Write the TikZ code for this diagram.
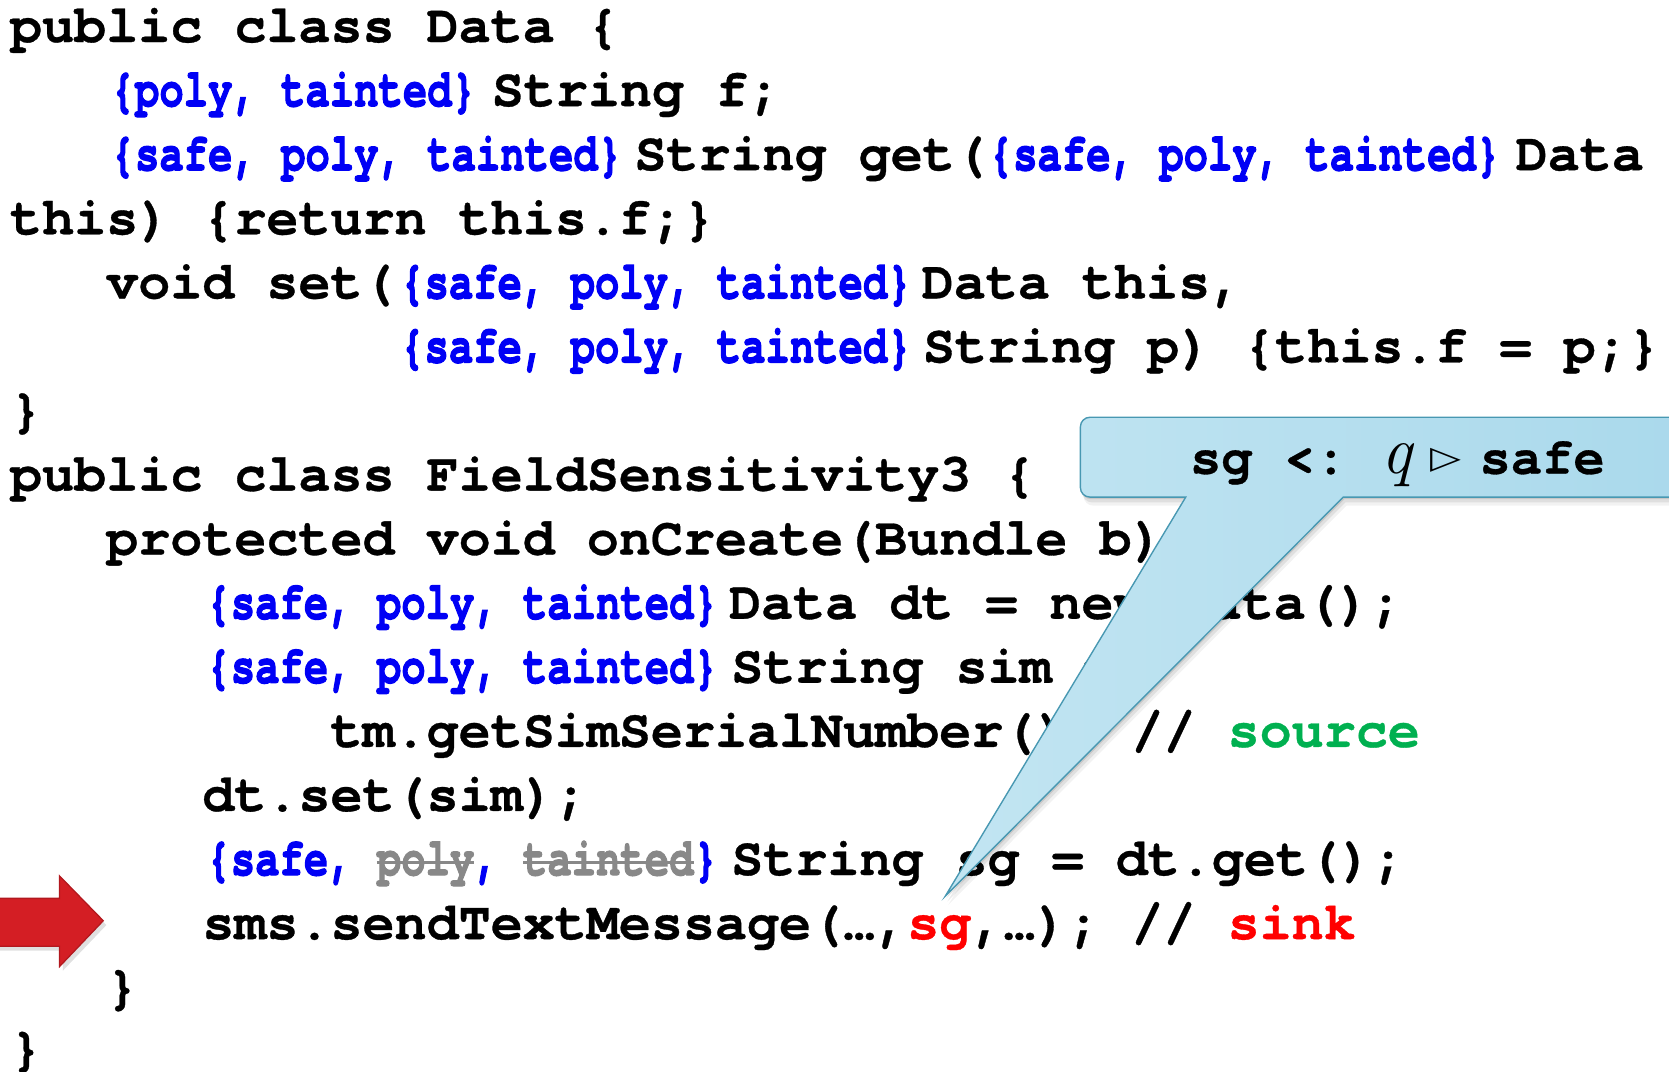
\documentclass[tikz,border=0pt]{standalone}
\usepackage{fontspec}
\usepackage{graphicx}
\newfontfamily\codefont{TeX Gyre Cursor}[BoldFeatures={FakeBold=0.6}]
\newfontfamily\annfont{TeX Gyre Cursor}[BoldFeatures={FakeBold=2.4}]
\newfontfamily\symfont{DejaVu Sans}
\definecolor{annblue}{RGB}{0,0,245}
\definecolor{srcgreen}{RGB}{0,176,80}
\definecolor{sinkred}{RGB}{255,0,0}
\definecolor{strikegrey}{RGB}{136,136,136}
\definecolor{callfillL}{RGB}{194,229,242}
\definecolor{callfillR}{RGB}{168,216,235}
\definecolor{callborder}{RGB}{72,152,178}
\definecolor{arrowdark}{RGB}{212,30,36}
\definecolor{arrowlight}{RGB}{244,70,74}
\definecolor{arrowedge}{RGB}{178,24,30}
\newsavebox\strkbox
\newcommand\strk[1]{\sbox\strkbox{#1}\rlap{\rule[0.2em]{\wd\strkbox}{0.06em}}\usebox\strkbox}
\newcommand\ann[1]{\scalebox{0.76}[1]{\annfont\bfseries\textcolor{annblue}{#1}}}
\newcommand\sfp{\ann{\{safe, poly, tainted\}}}
\tikzset{
  code/.style={anchor=base west, inner sep=0pt, outer sep=0pt,
    font=\codefont\bfseries\fontsize{50.17}{60}\selectfont},
  calltext/.style={anchor=base west, inner sep=0pt, outer sep=0pt,
    font=\codefont\bfseries\fontsize{49}{58}\selectfont},
}
\begin{document}
\begin{tikzpicture}[x=1pt,y=-1pt]
\path[use as bounding box] (0,0) rectangle (1568,1007);
% ---- code lines ----
\node[code] (l1) at (9.5,39.5) {public class Data \{};
\node[code] (l2a) at (104,99.7) {\ann{\{poly, tainted\}}};
\node[code] (l2b) at (462,99.7) {String f;};
\node[code] (l3a) at (104,159.9) {\sfp};
\node[code] (l3b) at (596,159.9) {String get(};
\node[code] (l3c) at (929,159.9) {\sfp};
\node[code] (l3d) at (1424,159.9) {Data};
\node[code] (l4) at (9.5,220.1) {this) \{return this.f;\}};
\node[code] (l5a) at (99.8,280.3) {void set(};
\node[code] (l5b) at (376,280.3) {\sfp};
\node[code] (l5c) at (866,280.3) {Data this,};
\node[code] (l6a) at (376,340.5) {\sfp};
\node[code] (l6b) at (867,340.5) {String p) \{this.f = p;\}};
\node[code] (l7) at (9.5,400.7) {\}};
\node[code] (l8) at (9.5,460.9) {public class FieldSensitivity3 \{};
\node[code] (l9) at (99.8,521.1) {protected void onCreate(Bundle b) \{};
\node[code] (l10a) at (194,581.3) {\sfp};
\node[code] (l10b) at (685,581.3) {Data dt = new Data();};
\node[code] (l11a) at (194,641.5) {\sfp};
\node[code] (l11b) at (687,641.5) {String sim =};
\node[code] (l12) at (310.5,701.7) {tm.getSimSerialNumber(); // \textcolor{srcgreen}{source}};
\node[code] (l13) at (190.1,761.9) {dt.set(sim);};
\node[code] (l14a) at (194,822.1) {\ann{\{safe, \textcolor{strikegrey}{\strk{poly}}, \textcolor{strikegrey}{\strk{tainted}}\}}};
\node[code] (l14b) at (687,822.1) {String sg = dt.get();};
\node[code] (l15) at (190.1,882.3) {sms.sendTextMessage(…,\textcolor{sinkred}{sg},…); // \textcolor{sinkred}{sink}};
\node[code] (l16) at (99.8,942.5) {\}};
\node[code] (l17) at (9.5,1000.5) {\}};
% ---- red arrow ----
\fill[black,opacity=0.12] (-10,848) -- (59,848) -- (59,827) -- (100,869) -- (59,912) -- (59,893) -- (-10,893) -- cycle;
\shade[top color=arrowdark, middle color=arrowlight, bottom color=arrowdark, draw=arrowedge, line width=1.2pt, line join=miter]
  (-10,844) -- (56,844) -- (56,823) -- (97,865) -- (56,908) -- (56,889) -- (-10,889) -- cycle;
% ---- callout ----
\foreach \dx/\dy/\op in {1/2/0.10, 2/5/0.08, 3/8/0.05}{
\begin{scope}[shift={(\dx,\dy)}]
\fill[black,opacity=\op] (1640,392) -- (1024,392) .. controls (1019,392) and (1015,396) .. (1015,401)
  -- (1015,458) .. controls (1015,463) and (1019,467) .. (1024,467) -- (1114,467) -- (888,842) -- (1262,467) -- (1640,467) -- cycle;
\end{scope}
}
\shade[left color=callfillL, right color=callfillR, draw=callborder, line width=1.3pt, line join=miter]
  (1640,392) -- (1024,392) .. controls (1019,392) and (1015,396) .. (1015,401)
  -- (1015,458) .. controls (1015,463) and (1019,467) .. (1024,467) -- (1114,467) -- (888,842) -- (1262,467) -- (1640,467) -- cycle;
\node[calltext] (c1) at (1118,445) {sg <:};
\node[anchor=base west, inner sep=0pt, font=\fontsize{64}{70}\selectfont\itshape] (c2) at (1298,445) {q};
\node[anchor=base west, inner sep=0pt] (c3) at (1344,445) {\raisebox{5pt}{\resizebox{29pt}{19pt}{\symfont ▷}}};
\node[calltext] (c4) at (1390,445) {safe};
\end{tikzpicture}
\end{document}
